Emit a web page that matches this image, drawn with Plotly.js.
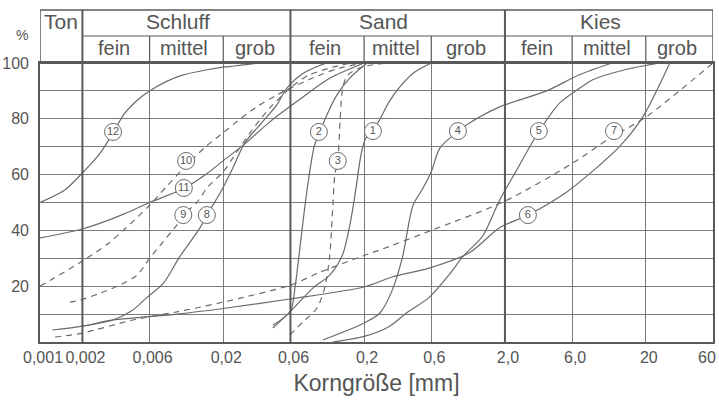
<!DOCTYPE html>
<html>
<head>
<meta charset="utf-8">
<script src="https://cdn.plot.ly/plotly-3.0.1.min.js"></script>
<style>html,body{margin:0;padding:0;background:#fff}#chart{width:719px;height:401px}</style>
</head>
<body>
<div id="chart"></div>
<script>
// ---- data ----
const tickVals = [0.001, 0.002, 0.006, 0.02, 0.06, 0.2, 0.6, 2, 6, 20, 60];
const tickText = ['0,001', '0,002', '0,006', '0,02', '0,06', '0,2', '0,6', '2,0', '6,0', '20', '60'];
const yTickVals = [10, 20, 30, 40, 50, 60, 70, 80, 90, 100];
const yTickText = ['', '20', '', '40', '', '60', '', '80', '', '100'];
const mainClasses = ['Ton', 'Schluff', 'Sand', 'Kies'];
const mainBounds = [0.001, 0.002, 0.06, 2, 60];
const subNames = ['fein', 'mittel', 'grob'];
const subBounds = [0.002, 0.006, 0.02, 0.06, 0.2, 0.6, 2, 6, 20, 60];

const c1d = [0.045, 0.06, 0.087, 0.114, 0.14, 0.16, 0.175, 0.19, 0.205, 0.23, 0.26, 0.3, 0.36, 0.45, 0.6];
const c1p = [5, 11, 19.4, 24, 31, 43, 55, 67, 73, 75.6, 80, 86, 91.5, 96.5, 100];
const c2d = [0.045, 0.06, 0.0646, 0.069, 0.0736, 0.08, 0.089, 0.097, 0.108, 0.128, 0.158, 0.21];
const c2p = [6, 11, 19.4, 31, 43, 57, 70.6, 75, 81, 88.5, 94.6, 100];
const c3d = [0.0594, 0.0736, 0.0921, 0.105, 0.114, 0.12, 0.124, 0.13, 0.135, 0.141, 0.153, 0.195, 0.3];
const c3p = [2.5, 7.2, 12, 19.4, 31, 49, 60, 65, 79, 91, 95.7, 98.6, 100];
const c4d = [0.102, 0.2, 0.259, 0.317, 0.375, 0.445, 0.522, 0.6, 0.69, 0.93, 1.12, 1.82, 3.95, 6.7, 11.5];
const c4p = [0.7, 6.8, 10.4, 18.6, 30.5, 49, 55, 61, 69.5, 75.6, 78.5, 84.2, 90, 95.7, 100];
const c5d = [0.12, 0.2, 0.3, 0.4, 0.58, 0.8, 1.0, 1.12, 1.39, 1.84, 2.42, 3.0, 3.54, 4.9, 6.8, 8.4, 14, 25];
const c5p = [0, 2, 5.5, 10.4, 16, 24, 30.5, 33, 38, 51, 61.6, 70, 76, 85.7, 91, 94, 97.5, 100];
const c6d = [0.00122, 0.002, 0.0033, 0.0094, 0.02, 0.0594, 0.2, 0.317, 0.58, 1.12, 1.84, 2.91, 5.5, 9.4, 13, 19, 29.6];
const c6p = [4.3, 5.7, 7.9, 10, 12, 15.4, 19.7, 23.3, 26.5, 32, 41, 45.5, 53.8, 63.4, 70, 80.6, 100];
const c7d = [0.00128, 0.002, 0.00457, 0.00938, 0.02, 0.06, 0.097, 0.2, 0.259, 0.6, 2, 6, 11.1, 20, 60];
const c7p = [1.8, 3.2, 7.9, 10.8, 14.3, 20.4, 25, 31, 33, 40, 50.5, 64, 73, 80.6, 100];
const c8d = [0.002, 0.0033, 0.00457, 0.0057, 0.0075, 0.0098, 0.0137, 0.0153, 0.019, 0.0234, 0.0284, 0.038, 0.048, 0.0566, 0.075, 0.108];
const c8p = [5.7, 7.9, 11.5, 15.8, 21, 30.5, 41, 45.5, 53.4, 62.4, 71.3, 78.9, 85, 91, 96.5, 100];
const c9d = [0.00163, 0.00192, 0.00267, 0.0037, 0.0049, 0.006, 0.0075, 0.0094, 0.011, 0.013, 0.0155, 0.02, 0.0234, 0.031, 0.0429, 0.053, 0.0594, 0.08, 0.12, 0.16];
const c9p = [14.3, 15, 17.5, 20.4, 24, 30, 36, 42, 46.6, 50, 55.5, 61, 66, 75, 84, 88.5, 91, 95.5, 98.5, 100];
const c10d = [0.001, 0.002, 0.003, 0.004, 0.006, 0.008, 0.0108, 0.015, 0.02, 0.025, 0.035, 0.048, 0.06, 0.09, 0.13, 0.2];
const c10p = [20, 29, 35, 40.5, 49, 56, 63, 70, 75, 79, 84.5, 88.5, 91, 95, 98, 100];
const c11d = [0.001, 0.002, 0.003, 0.004, 0.006, 0.0105, 0.015, 0.02, 0.0285, 0.043, 0.07, 0.114, 0.2];
const c11p = [37.3, 40.5, 43.5, 46, 50, 55, 60, 65, 71, 79, 87, 94.5, 100];
const c12d = [0.001, 0.0015, 0.002, 0.0027, 0.0033, 0.004, 0.005, 0.006, 0.008, 0.01, 0.015, 0.02, 0.03, 0.036];
const c12p = [50, 54.5, 60.6, 68, 75, 82, 87, 90, 93.5, 95.5, 97.5, 98.5, 99.5, 100];

const labelNames = ['1', '2', '3', '4', '5', '6', '7', '8', '9', '10', '11', '12'];
const labelD = [0.231, 0.0955, 0.130, 0.927, 3.48, 2.91, 11.9, 0.0153, 0.0104, 0.0109, 0.0105, 0.0033];
const labelP = [75.6, 75.3, 64.9, 75.6, 75.6, 45.5, 75.6, 45.5, 45.5, 64.9, 55.2, 75.3];

// ---- build ----
const curveD = [c1d, c2d, c3d, c4d, c5d, c6d, c7d, c8d, c9d, c10d, c11d, c12d];
const curveP = [c1p, c2p, c3p, c4p, c5p, c6p, c7p, c8p, c9p, c10p, c11p, c12p];
const dashed = [false, false, true, false, false, false, true, false, true, true, false, false];

const LINE = '#6b6b6b';
const TXT = '#555555';
const FONT = 'Liberation Sans, Arial, Helvetica, sans-serif';

const traces = curveD.map((d, i) => ({
  type: 'scatter', mode: 'lines', x: d, y: curveP[i],
  line: {color: LINE, width: 1.2, dash: dashed[i] ? '6px,5px' : 'solid', shape: 'spline', smoothing: 0.8},
  hoverinfo: 'skip', showlegend: false
}));
traces.push({
  type: 'scatter', mode: 'markers+text', x: labelD, y: labelP, text: labelNames,
  textposition: 'middle center', textfont: {family: FONT, size: 11, color: TXT},
  marker: {symbol: 'circle', size: 17, color: '#ffffff', line: {color: LINE, width: 1}},
  hoverinfo: 'skip', showlegend: false, cliponaxis: false
});

const HTOP = 1.19, HMID = 1.0968;
const shapes = [];
const lc = '#5a5a5a';
[mainBounds[1], mainBounds[2], mainBounds[3]].forEach(b => {
  shapes.push({type: 'line', xref: 'x', yref: 'paper', x0: b, x1: b, y0: 0, y1: HTOP, line: {color: lc, width: 2}});
});
[mainBounds[0], mainBounds[4]].forEach(b => {
  shapes.push({type: 'line', xref: 'x', yref: 'paper', x0: b, x1: b, y0: 1, y1: HTOP, line: {color: lc, width: 1.5}});
});
subBounds.forEach(b => {
  if (mainBounds.indexOf(b) < 0) {
    shapes.push({type: 'line', xref: 'x', yref: 'paper', x0: b, x1: b, y0: 1, y1: HMID, line: {color: lc, width: 1.2}});
  }
});
shapes.push({type: 'line', xref: 'x', yref: 'paper', x0: mainBounds[0], x1: mainBounds[4], y0: HTOP, y1: HTOP, line: {color: lc, width: 1.5}});
shapes.push({type: 'line', xref: 'x', yref: 'paper', x0: mainBounds[1], x1: mainBounds[4], y0: HMID, y1: HMID, line: {color: lc, width: 1.2}});
shapes.push({type: 'line', xref: 'x', yref: 'paper', x0: mainBounds[0], x1: mainBounds[4], y0: 1, y1: 1, line: {color: lc, width: 1.8}});

const annotations = [];
const mainShift = [0, -8, -14, -8];
mainClasses.forEach((name, i) => {
  const c = Math.sqrt(mainBounds[i] * mainBounds[i + 1]);
  annotations.push({x: Math.log10(c), xref: 'x', y: (HTOP + HMID) / 2, yref: 'paper', text: name, showarrow: false,
    xshift: mainShift[i], yshift: 1, font: {family: FONT, size: 21, color: TXT}, xanchor: 'center', yanchor: 'middle'});
});
[0, 3, 6].forEach(s => {
  for (let j = 0; j < 3; j++) {
    const c = Math.sqrt(subBounds[s + j] * subBounds[s + j + 1]);
    annotations.push({x: Math.log10(c), xref: 'x', y: (1 + HMID) / 2, yref: 'paper', text: subNames[j], showarrow: false,
      xshift: -2, yshift: 1, font: {family: FONT, size: 20, color: TXT}, xanchor: 'center', yanchor: 'middle'});
  }
});
annotations.push({x: -0.027, xref: 'paper', y: 1.10, yref: 'paper', text: '%', showarrow: false,
  font: {family: FONT, size: 14, color: TXT}, xanchor: 'center', yanchor: 'middle'});
// last x tick label, pulled inside the page so it is not cut off
const lastIdx = tickVals.length - 1;
annotations.push({x: Math.log10(tickVals[lastIdx]), xref: 'x', y: -0.0538, yref: 'paper', text: tickText[lastIdx],
  showarrow: false, xanchor: 'right', yanchor: 'middle', xshift: 5, font: {family: FONT, size: 16, color: TXT}});
const axisTickText = tickText.map((t, i) => (i === lastIdx ? '' : t));

const layout = {
  width: 719, height: 401,
  margin: {l: 40, r: 6, t: 63, b: 59},
  paper_bgcolor: '#ffffff', plot_bgcolor: '#ffffff',
  font: {family: FONT, color: TXT},
  showlegend: false,
  xaxis: {
    type: 'log', range: [Math.log10(0.001) - 1e-6, Math.log10(60) + 1e-6],
    tickmode: 'array', tickvals: tickVals, ticktext: axisTickText,
    showgrid: true, gridcolor: '#7a7a7a', gridwidth: 1,
    showline: true, mirror: true, linecolor: lc, linewidth: 1.8,
    ticks: '', zeroline: false, tickfont: {family: FONT, size: 16, color: TXT},
    ticklabeloverflow: 'allow', ticklabelshift: 3,
    title: {text: 'Korngröße [mm]', font: {family: FONT, size: 23, color: TXT}, standoff: 10},
    automargin: false, fixedrange: true
  },
  yaxis: {
    range: [0, 100], tickmode: 'array', tickvals: yTickVals, ticktext: yTickText,
    showgrid: true, gridcolor: '#7a7a7a', gridwidth: 1,
    showline: true, mirror: true, linecolor: lc, linewidth: 1.8,
    ticks: '', zeroline: false, tickfont: {family: FONT, size: 16, color: TXT},
    ticklabelstandoff: 6, automargin: false, fixedrange: true
  },
  shapes: shapes,
  annotations: annotations
};

Plotly.newPlot('chart', traces, layout, {displayModeBar: false, staticPlot: true});
</script>
</body>
</html>
